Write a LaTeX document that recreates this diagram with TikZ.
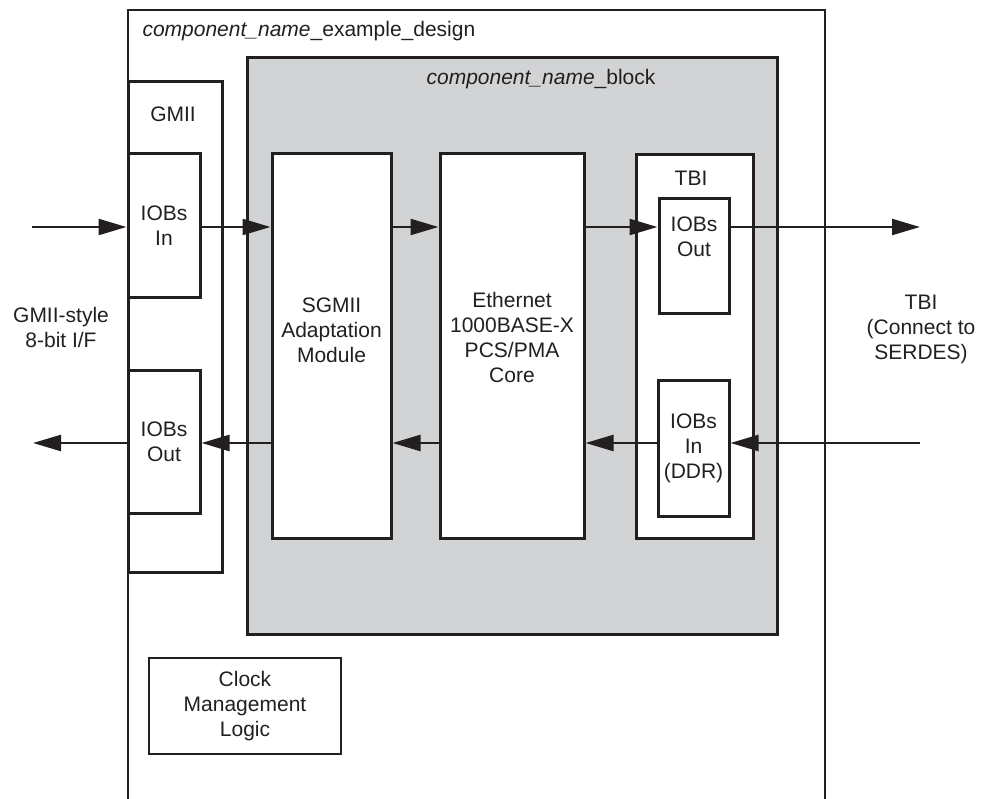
\documentclass[tikz,border=0pt]{standalone}
\usepackage{fontspec}
\setmainfont{Liberation Sans}
\usetikzlibrary{arrows.meta}
\definecolor{ink}{HTML}{231F20}
\definecolor{blockgrey}{HTML}{D1D3D4}
\begin{document}
\begin{tikzpicture}[x=1pt,y=-1pt,
  every node/.style={font=\fontsize{21}{25}\selectfont, text=ink, align=center},
  box/.style={draw=ink, line width=3pt, fill=white, inner sep=0pt},
  sig/.style={draw=ink, line width=2.4pt, -{Triangle[length=28pt,width=16pt]}}]
\useasboundingbox (0,0) rectangle (981,799);
% example design frame (open at the bottom)
\draw[ink, line width=2.3pt] (128,810) -- (128,10) -- (825,10) -- (825,810);
\node[anchor=base west] (design) at (139,37) {\textit{component\_name}\_example\_design};
% block
\node[box, fill=blockgrey, minimum width=530, minimum height=576] (blk) at (512,346) {};
\node[anchor=base] (blktxt) at (541,85) {\textit{component\_name}\_block};
% GMII side
\node[box, minimum width=94, minimum height=490] (gmii) at (175.5,327) {};
\node[anchor=base] (gmiitxt) at (173,122) {GMII};
\node[box, minimum width=72, minimum height=143] (iobin) at (164,225.5) {IOBs\\In};
\node[box, minimum width=72, minimum height=143] (iobout) at (164,441.5) {IOBs\\Out};
% inside the block
\node[box, minimum width=119, minimum height=384] (sgmii) at (331.5,346) {};
\node (sgmiitxt) at (331.5,330) {SGMII\\Adaptation\\Module};
\node[box, minimum width=144, minimum height=384] (core) at (512,346) {};
\node (coretxt) at (512,337) {Ethernet\\1000BASE-X\\PCS/PMA\\Core};
\node[box, minimum width=117, minimum height=383] (tbi) at (694.5,346.5) {};
\node[anchor=base] (tbitxt) at (691,186) {TBI};
\node[box, minimum width=70, minimum height=114] (tbiout) at (694,256) {};
\node (tbiouttxt) at (694,237) {IOBs\\Out};
\node[box, minimum width=71, minimum height=136] (tbiin) at (693.5,448) {IOBs\\In\\(DDR)};
% clocking
\node[draw=ink, line width=1.4pt, inner sep=0pt, minimum width=192, minimum height=96] (clk) at (245,706) {Clock\\Management\\Logic};
% outside labels
\node (gmiiif) at (61,327) {GMII-style\\8-bit I/F};
\node (tbiif) at (921,329) {TBI\\(Connect to\\SERDES)};
% signal ends
\coordinate (gmiirx) at (32,227);
\coordinate (tbitx) at (920,227);
\coordinate (tbirx) at (920,443);
\coordinate (gmiitx) at (33,443);
% transmit path
\path[sig] (gmiirx) -- (iobin.west |- gmiirx);
\path[sig] (iobin.east |- gmiirx) -- (sgmii.west |- gmiirx);
\path[sig] (sgmii.east |- gmiirx) -- (core.west |- gmiirx);
\path[sig] (core.east |- gmiirx) -- (tbiout.west |- gmiirx);
\path[sig] (tbiout.east |- gmiirx) -- (tbitx);
% receive path
\path[sig] (tbirx) -- (tbiin.east |- tbirx);
\path[sig] (tbiin.west |- tbirx) -- (core.east |- tbirx);
\path[sig] (core.west |- tbirx) -- (sgmii.east |- tbirx);
\path[sig] (sgmii.west |- tbirx) -- (iobout.east |- tbirx);
\path[sig] (iobout.west |- tbirx) -- (gmiitx);
\end{tikzpicture}
\end{document}
